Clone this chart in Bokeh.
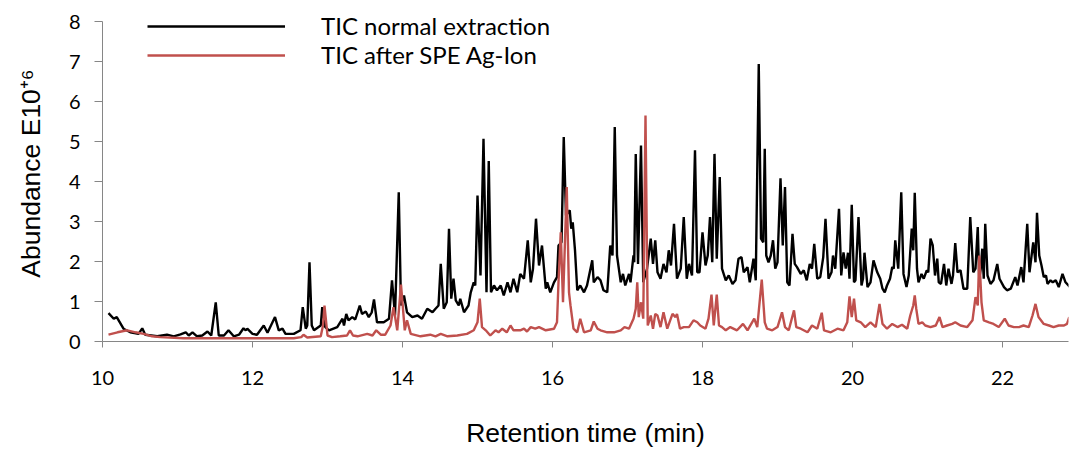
from bokeh.plotting import figure
from bokeh.models import Range1d, FixedTicker, Legend, LegendItem
from bokeh.embed import file_html
from bokeh.resources import INLINE

# ---- data (time in min, abundance in E10+6) ----
normal_time = [
    10.08, 10.15, 10.19, 10.28, 10.37, 10.48, 10.53, 10.57, 10.73, 10.86, 10.95, 11.04, 11.11, 11.15,
    11.20, 11.26, 11.33, 11.40, 11.45, 11.51, 11.55, 11.62, 11.68, 11.75, 11.82, 11.88, 11.91, 11.93,
    12.00, 12.06, 12.15, 12.20, 12.30, 12.35, 12.40, 12.44, 12.55, 12.64, 12.67, 12.71, 12.73, 12.76,
    12.79, 12.82, 12.91, 12.93, 12.97, 13.02, 13.13, 13.20, 13.22, 13.25, 13.28, 13.33, 13.37, 13.43,
    13.46, 13.51, 13.55, 13.59, 13.62, 13.66, 13.75, 13.82, 13.86, 13.90, 13.95, 13.98, 14.02, 14.06,
    14.13, 14.20, 14.26, 14.33, 14.40, 14.44, 14.48, 14.51, 14.55, 14.59, 14.62, 14.65, 14.68, 14.71,
    14.75, 14.77, 14.82, 14.88, 14.91, 14.95, 14.97, 15.00, 15.04, 15.08, 15.12, 15.15, 15.18, 15.22,
    15.26, 15.31, 15.35, 15.40, 15.44, 15.48, 15.53, 15.57, 15.62, 15.67, 15.71, 15.74, 15.78, 15.82,
    15.86, 15.91, 15.93, 15.97, 16.02, 16.06, 16.08, 16.12, 16.15, 16.18, 16.23, 16.25, 16.27, 16.30,
    16.33, 16.37, 16.42, 16.46, 16.53, 16.55, 16.60, 16.64, 16.68, 16.73, 16.77, 16.80, 16.83, 16.86,
    16.91, 16.94, 16.97, 17.02, 17.04, 17.08, 17.09, 17.11, 17.14, 17.18, 17.21, 17.26, 17.31, 17.34,
    17.37, 17.40, 17.44, 17.48, 17.52, 17.55, 17.58, 17.62, 17.66, 17.71, 17.75, 17.79, 17.82, 17.86,
    17.90, 17.93, 17.96, 18.00, 18.04, 18.07, 18.10, 18.13, 18.16, 18.19, 18.23, 18.26, 18.31, 18.35,
    18.40, 18.44, 18.48, 18.52, 18.55, 18.60, 18.63, 18.68, 18.71, 18.75, 18.78, 18.81, 18.83, 18.85,
    18.88, 18.91, 18.94, 18.97, 19.00, 19.04, 19.07, 19.10, 19.13, 19.16, 19.20, 19.23, 19.26, 19.31,
    19.35, 19.39, 19.43, 19.46, 19.49, 19.53, 19.57, 19.61, 19.64, 19.68, 19.72, 19.74, 19.77, 19.82,
    19.85, 19.88, 19.91, 19.94, 19.96, 19.99, 20.02, 20.04, 20.08, 20.12, 20.14, 20.16, 20.20, 20.24,
    20.28, 20.33, 20.37, 20.40, 20.43, 20.46, 20.50, 20.53, 20.55, 20.57, 20.61, 20.65, 20.68, 20.72,
    20.75, 20.79, 20.81, 20.83, 20.86, 20.88, 20.92, 20.95, 20.99, 21.01, 21.04, 21.07, 21.10, 21.13,
    21.15, 21.18, 21.22, 21.25, 21.28, 21.32, 21.34, 21.37, 21.40, 21.44, 21.48, 21.53, 21.57, 21.61,
    21.64, 21.67, 21.69, 21.71, 21.73, 21.75, 21.77, 21.80, 21.84, 21.88, 21.93, 21.96, 22.02, 22.06,
    22.11, 22.17, 22.20, 22.25, 22.28, 22.33, 22.36, 22.41, 22.44, 22.46, 22.49, 22.52, 22.55, 22.58,
    22.60, 22.64, 22.67, 22.71, 22.75, 22.80, 22.84, 22.90,
]
normal_abundance = [
    0.71, 0.57, 0.61, 0.32, 0.23, 0.19, 0.33, 0.17, 0.13, 0.17, 0.13, 0.18, 0.23, 0.15,
    0.23, 0.13, 0.15, 0.25, 0.15, 0.98, 0.15, 0.15, 0.28, 0.13, 0.17, 0.33, 0.28, 0.32,
    0.19, 0.17, 0.40, 0.22, 0.61, 0.28, 0.32, 0.19, 0.19, 0.28, 0.86, 0.32, 0.40, 1.98,
    0.40, 0.28, 0.40, 0.86, 0.36, 0.28, 0.36, 0.57, 0.40, 0.69, 0.53, 0.61, 0.55, 0.90,
    0.69, 0.75, 0.61, 0.73, 1.05, 0.48, 0.48, 0.57, 1.53, 0.65, 3.73, 0.90, 1.15, 0.73,
    0.61, 0.65, 0.57, 0.82, 0.73, 0.82, 0.90, 1.94, 0.82, 0.98, 2.82, 1.07, 1.57, 1.03,
    0.90, 1.07, 0.73, 0.90, 1.23, 1.48, 1.40, 3.65, 1.65, 5.07, 1.23, 4.51, 1.23, 1.40,
    1.28, 1.40, 1.15, 1.48, 1.23, 1.57, 1.23, 1.69, 1.57, 2.53, 1.48, 1.82, 3.07, 1.90,
    2.40, 1.32, 1.48, 1.23, 1.48, 1.61, 2.40, 2.48, 5.11, 3.15, 3.28, 2.82, 2.98, 2.28,
    1.28, 1.40, 1.23, 1.40, 2.03, 1.48, 1.61, 1.53, 1.28, 1.23, 2.40, 2.15, 5.36, 2.15,
    1.48, 1.69, 1.40, 1.69, 1.48, 2.15, 1.98, 4.69, 1.94, 4.90, 1.48, 1.82, 2.57, 1.94,
    2.53, 1.73, 1.57, 1.94, 1.73, 2.28, 1.90, 2.94, 1.57, 1.82, 3.11, 1.57, 1.94, 1.65,
    4.78, 1.73, 1.73, 2.73, 1.90, 2.15, 3.11, 1.98, 4.69, 2.07, 4.11, 1.82, 1.53, 1.65,
    1.44, 1.53, 2.07, 2.11, 1.73, 1.86, 1.48, 2.07, 1.53, 6.94, 2.57, 2.48, 4.82, 2.15,
    1.98, 2.15, 2.53, 1.82, 1.98, 4.08, 2.40, 3.86, 1.48, 1.40, 2.69, 1.94, 1.86, 1.69,
    1.78, 1.53, 1.94, 1.82, 2.44, 1.57, 1.61, 2.11, 3.07, 1.57, 1.73, 2.15, 1.82, 3.32,
    1.65, 2.23, 1.82, 2.22, 1.57, 3.42, 1.48, 1.53, 3.11, 1.40, 1.57, 2.22, 1.36, 1.48,
    2.03, 1.73, 1.57, 1.32, 1.23, 1.40, 1.57, 1.86, 1.82, 2.53, 1.82, 3.73, 1.69, 1.36,
    1.65, 2.82, 2.28, 3.72, 1.82, 1.48, 1.69, 1.57, 1.78, 1.73, 2.57, 2.40, 1.65, 2.07,
    1.48, 1.44, 1.94, 1.40, 1.82, 1.44, 1.65, 2.46, 1.73, 1.78, 1.32, 1.32, 3.11, 1.73,
    1.82, 2.86, 1.57, 1.82, 2.32, 1.57, 2.94, 1.65, 1.44, 1.53, 1.94, 1.57, 1.36, 1.28,
    1.32, 1.61, 1.40, 1.86, 1.48, 2.94, 1.73, 2.48, 1.98, 3.22, 2.15, 1.90, 1.61, 1.65,
    1.44, 1.53, 1.48, 1.53, 1.36, 1.69, 1.48, 1.36,
]

spe_time = [
    10.08, 10.20, 10.33, 10.44, 10.55, 10.66, 10.77, 11.08, 11.53, 11.97, 12.55, 12.65, 12.68, 12.73,
    12.91, 12.94, 12.96, 13.00, 13.06, 13.17, 13.26, 13.30, 13.34, 13.40, 13.53, 13.60, 13.65, 13.71,
    13.77, 13.84, 13.88, 13.93, 13.98, 14.03, 14.06, 14.11, 14.24, 14.37, 14.44, 14.51, 14.60, 14.73,
    14.86, 14.95, 15.00, 15.03, 15.06, 15.11, 15.17, 15.24, 15.28, 15.33, 15.39, 15.44, 15.48, 15.57,
    15.62, 15.66, 15.71, 15.77, 15.82, 15.91, 16.02, 16.06, 16.08, 16.11, 16.14, 16.19, 16.22, 16.24,
    16.28, 16.33, 16.37, 16.42, 16.51, 16.55, 16.60, 16.64, 16.73, 16.82, 16.91, 16.96, 17.02, 17.08,
    17.11, 17.13, 17.15, 17.18, 17.21, 17.24, 17.27, 17.31, 17.34, 17.37, 17.40, 17.44, 17.48, 17.53,
    17.60, 17.64, 17.66, 17.70, 17.75, 17.82, 17.88, 17.93, 17.97, 18.04, 18.08, 18.12, 18.15, 18.19,
    18.22, 18.26, 18.31, 18.37, 18.46, 18.54, 18.60, 18.69, 18.73, 18.79, 18.83, 18.86, 18.93, 19.00,
    19.06, 19.10, 19.15, 19.22, 19.25, 19.31, 19.40, 19.46, 19.53, 19.59, 19.62, 19.71, 19.80, 19.88,
    19.93, 19.96, 19.99, 20.02, 20.05, 20.11, 20.17, 20.24, 20.31, 20.36, 20.40, 20.46, 20.53, 20.60,
    20.66, 20.73, 20.77, 20.81, 20.83, 20.85, 20.88, 20.93, 20.97, 21.04, 21.11, 21.16, 21.20, 21.26,
    21.33, 21.37, 21.44, 21.53, 21.60, 21.64, 21.67, 21.69, 21.72, 21.75, 21.82, 21.88, 21.95, 22.03,
    22.08, 22.15, 22.22, 22.28, 22.35, 22.40, 22.44, 22.48, 22.55, 22.62, 22.68, 22.75, 22.82, 22.86,
    22.89,
]
spe_abundance = [
    0.17, 0.23, 0.28, 0.23, 0.19, 0.13, 0.11, 0.08, 0.08, 0.08, 0.08, 0.11, 0.17, 0.10,
    0.13, 0.40, 0.90, 0.15, 0.11, 0.13, 0.15, 0.28, 0.15, 0.13, 0.19, 0.15, 0.28, 0.17,
    0.17, 0.40, 0.86, 0.28, 1.42, 0.28, 0.53, 0.19, 0.13, 0.17, 0.13, 0.19, 0.13, 0.15,
    0.19, 0.28, 0.48, 1.07, 0.36, 0.28, 0.15, 0.28, 0.23, 0.32, 0.23, 0.40, 0.28, 0.28,
    0.32, 0.25, 0.36, 0.32, 0.36, 0.28, 0.32, 0.48, 1.48, 2.73, 0.98, 3.86, 1.23, 0.90,
    0.32, 0.23, 0.57, 0.23, 0.28, 0.50, 0.32, 0.28, 0.23, 0.23, 0.28, 0.36, 0.32, 0.57,
    0.82, 1.48, 0.61, 0.98, 0.57, 5.65, 0.40, 0.65, 0.32, 0.69, 0.65, 0.36, 0.73, 0.32,
    0.69, 0.61, 0.69, 0.32, 0.36, 0.36, 0.53, 0.48, 0.40, 0.32, 0.57, 1.17, 0.40, 1.17,
    0.40, 0.36, 0.28, 0.36, 0.28, 0.44, 0.28, 0.57, 0.36, 1.55, 0.48, 0.32, 0.28, 0.36,
    0.73, 0.36, 0.28, 0.78, 0.36, 0.32, 0.23, 0.40, 0.32, 0.72, 0.28, 0.23, 0.32, 0.28,
    0.48, 1.13, 0.61, 1.07, 0.53, 0.48, 0.36, 0.48, 0.36, 0.94, 0.44, 0.32, 0.44, 0.36,
    0.42, 0.32, 0.65, 0.90, 1.15, 0.82, 0.44, 0.48, 0.40, 0.36, 0.40, 0.61, 0.36, 0.40,
    0.44, 0.48, 0.40, 0.36, 0.53, 1.11, 0.90, 2.15, 0.98, 0.53, 0.48, 0.44, 0.36, 0.57,
    0.40, 0.36, 0.36, 0.40, 0.36, 0.65, 0.94, 0.61, 0.44, 0.40, 0.36, 0.40, 0.40, 0.44,
    0.61,
]

x_ticks = [10, 12, 14, 16, 18, 20, 22]
y_ticks = [0, 1, 2, 3, 4, 5, 6, 7, 8]
series_labels = ["TIC normal extraction", "TIC after SPE Ag-Ion"]

# ---- figure ----
p = figure(width=1073, height=450, output_backend="svg", toolbar_location=None,
           x_range=Range1d(10, 22.88), y_range=Range1d(0, 8.4),
           min_border_left=102, min_border_right=5, min_border_top=5, min_border_bottom=109)
p.outline_line_color = None
p.grid.visible = False
p.background_fill_color = "white"
p.border_fill_color = "white"

r_normal = p.line(normal_time, normal_abundance, line_color="#000000", line_width=2.4)
r_spe = p.line(spe_time, spe_abundance, line_color="#C0504D", line_width=2.4)

axis_grey = "#868686"
for ax in (p.xaxis[0], p.yaxis[0]):
    ax.axis_line_color = axis_grey
    ax.major_tick_line_color = axis_grey
    ax.minor_tick_line_color = None
    ax.major_tick_in = 0
    ax.major_label_text_font = "Lato"
    ax.major_label_text_font_size = "20px"
    ax.major_label_text_color = "#000000"
    ax.axis_label_text_font = "Liberation Sans"
    ax.axis_label_text_font_style = "normal"
    ax.axis_label_text_font_size = "26.5px"
    ax.axis_label_text_color = "#000000"

p.xaxis.ticker = FixedTicker(ticks=x_ticks)
p.yaxis.ticker = FixedTicker(ticks=y_ticks)
p.yaxis.bounds = (0, 8)
p.xaxis.major_tick_out = 6
p.yaxis.major_tick_out = 8
p.xaxis.major_label_standoff = 23
p.yaxis.major_label_standoff = 14
p.xaxis.axis_label = "Retention time (min)"
p.yaxis.axis_label = "Abundance E10\u207a\u2076"
p.xaxis.axis_label_standoff = 30
p.yaxis.axis_label_standoff = 20

legend = Legend(
    items=[LegendItem(label=series_labels[0], renderers=[r_normal]),
           LegendItem(label=series_labels[1], renderers=[r_spe])],
    location=(45, 272), glyph_width=138, glyph_height=20, label_height=20,
    spacing=0, label_standoff=36, padding=0, margin=0,
    border_line_color=None, background_fill_alpha=0,
    label_text_font="Lato", label_text_font_size="24px", label_text_color="#000000",
)
p.add_layout(legend)

open("out.html", "w").write(file_html(p, INLINE))
